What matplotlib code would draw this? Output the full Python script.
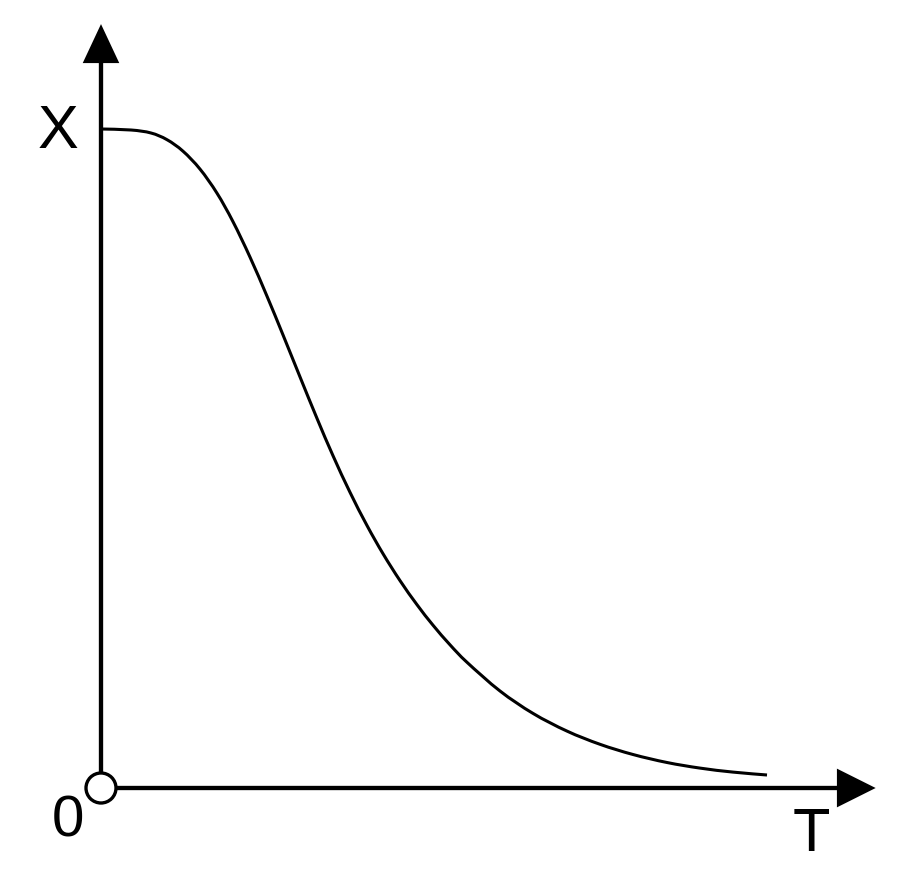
import numpy as np
import matplotlib
matplotlib.use('Agg')
import matplotlib.pyplot as plt
from matplotlib.patches import Circle, PathPatch
from matplotlib.path import Path

# curve (T to the right, X upward, origin at the circle)
t = [0, 30, 50, 66, 82, 99, 116, 132, 149, 166, 182, 199, 216, 232, 249, 266,
     282, 299, 316, 332, 349, 366, 399, 432, 466, 499, 532, 566, 599, 632, 666]
x = [659, 658, 655, 648.3, 636.8, 618.9, 594.8, 566.3, 530.9, 491.8, 453.1, 411.1,
     369.6, 332.3, 295.7, 262.5, 234.3, 207.4, 183.3, 162.8, 143.2, 125.7, 97,
     74.6, 56.9, 43.7, 33.5, 25.5, 19.9, 15.9, 13]

t_end = 770   # x-axis arrow tip
x_end = 759   # y-axis arrow tip

fig = plt.figure(figsize=(9, 8.87), dpi=100)
ax = fig.add_axes([0, 0, 1, 1])
ax.set_xlim(-101, 799)
ax.set_ylim(-98, 789)
ax.axis('off')

# smooth path through the read points (Catmull-Rom as cubic Bezier)
p = np.column_stack([t, x]).astype(float)
verts = [p[0]]
codes = [Path.MOVETO]
for i in range(len(p) - 1):
    p0 = p[i - 1] if i > 0 else p[i]
    p3 = p[i + 2] if i + 2 < len(p) else p[i + 1]
    c1 = p[i] + (p[i + 1] - p0) / 6
    c2 = p[i + 1] - (p3 - p[i]) / 6
    verts += [c1, c2, p[i + 1]]
    codes += [Path.CURVE4] * 3
ax.add_patch(PathPatch(Path(verts, codes), facecolor='none', edgecolor='black',
                       lw=2.2, capstyle='butt'))

# axes with arrow heads
ax.arrow(0, 16, 0, x_end - 16 - 32, width=0, lw=3, color='black',
         head_width=30, head_length=32, length_includes_head=False)
ax.arrow(16, 0, t_end - 16 - 32, 0, width=0, lw=3, color='black',
         head_width=32, head_length=32, length_includes_head=False)

ax.add_patch(Circle((0, 0), 15, facecolor='white', edgecolor='black', lw=2.4, zorder=5))

ax.text(-43, 656, 'X', fontsize=44, family='Liberation Sans', ha='center', va='center')
ax.text(-33, -33, '0', fontsize=42, family='Liberation Sans', ha='center', va='center')
ax.text(710, -47, 'T', fontsize=44, family='Liberation Sans', ha='center', va='center')

fig.savefig('out.png', dpi=100)
